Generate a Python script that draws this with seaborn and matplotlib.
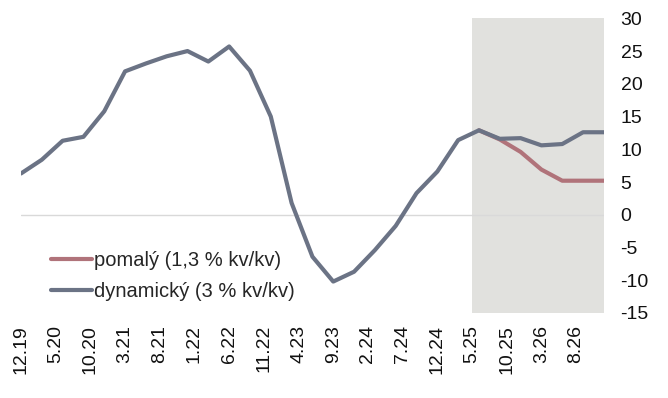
import matplotlib
matplotlib.use("Agg")
import matplotlib.pyplot as plt
import seaborn as sns
import pandas as pd

# Quarterly observation dates (month.year) and values
dates = ["12.19", "3.20", "6.20", "9.20", "12.20", "3.21", "6.21", "9.21", "12.21",
         "3.22", "6.22", "9.22", "12.22", "3.23", "6.23", "9.23", "12.23", "3.24",
         "6.24", "9.24", "12.24", "3.25", "6.25", "9.25", "12.25", "3.26", "6.26",
         "9.26", "12.26"]
dynamicky = [6.3, 8.4, 11.3, 11.9, 15.8, 21.9, 23.1, 24.2, 25.0, 23.4, 25.7, 22.0,
             15.0, 1.8, -6.4, -10.2, -8.7, -5.4, -1.7, 3.3, 6.6, 11.4, 12.9, 11.6,
             11.7, 10.6, 10.8, 12.6, 12.6]
pomaly_dates = ["6.25", "9.25", "12.25", "3.26", "6.26", "9.26", "12.26"]
pomaly = [12.9, 11.5, 9.6, 6.9, 5.2, 5.2, 5.2]

tick_labels = ["12.19", "5.20", "10.20", "3.21", "8.21", "1.22", "6.22", "11.22",
               "4.23", "9.23", "2.24", "7.24", "12.24", "5.25", "10.25", "3.26", "8.26"]
forecast_start, forecast_end = "5.25", "12.26"

name_slow = "pomalý (1,3 % kv/kv)"
name_fast = "dynamický (3 % kv/kv)"


def month_index(label):
    m, y = label.split(".")
    return (int(y) - 19) * 12 + int(m) - 12


df = pd.concat([
    pd.DataFrame({"m": [month_index(d) for d in pomaly_dates], "v": pomaly, "s": name_slow}),
    pd.DataFrame({"m": [month_index(d) for d in dates], "v": dynamicky, "s": name_fast}),
], ignore_index=True)

sns.set_theme(style="white")
plt.rcParams["font.family"] = ["Liberation Sans", "DejaVu Sans"]
plt.rcParams["axes.unicode_minus"] = False

fig = plt.figure(figsize=(6.68, 3.98), dpi=100)
ax = fig.add_axes([0.0314, 0.2136, 0.8726, 0.7404])

ax.axvspan(month_index(forecast_start), month_index(forecast_end), color="#E1E1DE", lw=0, zorder=0)
ax.axhline(0, color="#D9D9D9", lw=1, zorder=1)

sns.lineplot(data=df, x="m", y="v", hue="s", hue_order=[name_slow, name_fast],
             palette={name_slow: "#B0737A", name_fast: "#6B7385"},
             linewidth=3, ax=ax, zorder=3)

ax.set_xlim(0, 84)
ax.set_ylim(-15, 30)
ax.set_yticks(range(-15, 31, 5))
ax.set_xticks([month_index(t) for t in tick_labels])
ax.set_xticklabels(tick_labels, rotation=90)
ax.yaxis.tick_right()
ax.tick_params(axis="both", length=0, labelsize=14, colors="#111111")
ax.tick_params(axis="x", pad=8.5)
ax.tick_params(axis="y", pad=12)
ax.set_xlabel("")
ax.set_ylabel("")
for sp in ax.spines.values():
    sp.set_visible(False)

leg = ax.legend(loc="upper left", bbox_to_anchor=(0.0515, 0.211), frameon=False,
                fontsize=14.5, handlelength=2.05, handletextpad=0.08, labelspacing=0.6,
                borderaxespad=0, borderpad=0)
for line in leg.get_lines():
    line.set_linewidth(3)

fig.savefig("out.png", dpi=100)
